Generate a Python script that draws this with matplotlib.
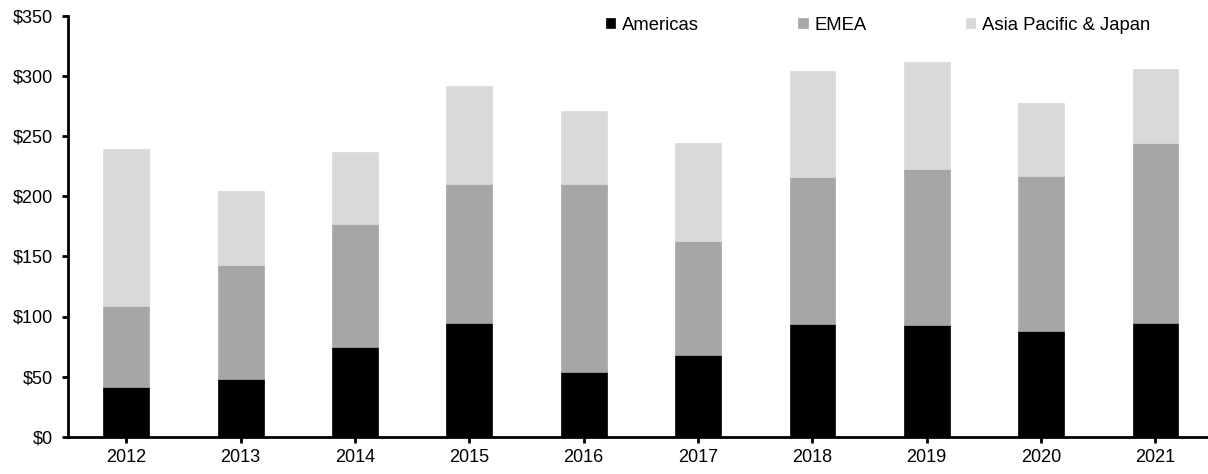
import matplotlib
matplotlib.use("Agg")
import matplotlib.pyplot as plt
import numpy as np

plt.rcParams['font.family'] = ['Liberation Sans', 'DejaVu Sans']

years = ["2012", "2013", "2014", "2015", "2016", "2017", "2018", "2019", "2020", "2021"]
americas = [41, 48, 75, 95, 54, 68, 94, 93, 88, 95]
emea = [68, 95, 102, 115, 156, 95, 122, 130, 129, 149]
apj = [130, 61, 60, 82, 61, 81, 88, 89, 61, 62]

series_names = ["Americas", "EMEA", "Asia Pacific & Japan"]
series_colors = ["#000000", "#a6a6a6", "#d9d9d9"]
y_ticks = [0, 50, 100, 150, 200, 250, 300, 350]

W, H = 1208, 474
fig = plt.figure(figsize=(W / 100, H / 100), dpi=100)
ax = fig.add_axes([68 / W, (H - 436.7) / H, 1140 / W, 420.7 / H])

x = np.arange(len(years))
bottom = np.zeros(len(years))
for name, vals, col in zip(series_names, [americas, emea, apj], series_colors):
    ax.bar(x, vals, width=0.4, bottom=bottom, color=col, label=name,
           edgecolor=col, linewidth=0.5)
    bottom += np.array(vals)

ax.set_xlim(-0.51, 9.46)
ax.set_ylim(0, 350)
ax.set_xticks(x)
ax.set_xticklabels(years)
ax.set_yticks(y_ticks)
ax.set_yticklabels([f"${v}" for v in y_ticks])

for side in ("top", "right"):
    ax.spines[side].set_visible(False)
for side in ("left", "bottom"):
    ax.spines[side].set_linewidth(2)
    ax.spines[side].set_color("black")

ax.tick_params(axis="both", direction="out", length=4, width=2,
               labelsize=13, colors="black")
ax.tick_params(axis="x", pad=5)
ax.tick_params(axis="y", pad=7)

leg = ax.legend(loc="center left", bbox_to_anchor=(606 / W, 1 - 25 / H),
                bbox_transform=fig.transFigure, ncol=3, frameon=False,
                fontsize=13.3, handlelength=0.5, handleheight=0.45,
                handletextpad=0.35, columnspacing=5.4, borderpad=0,
                borderaxespad=0)

fig.savefig("out.png", dpi=100)
